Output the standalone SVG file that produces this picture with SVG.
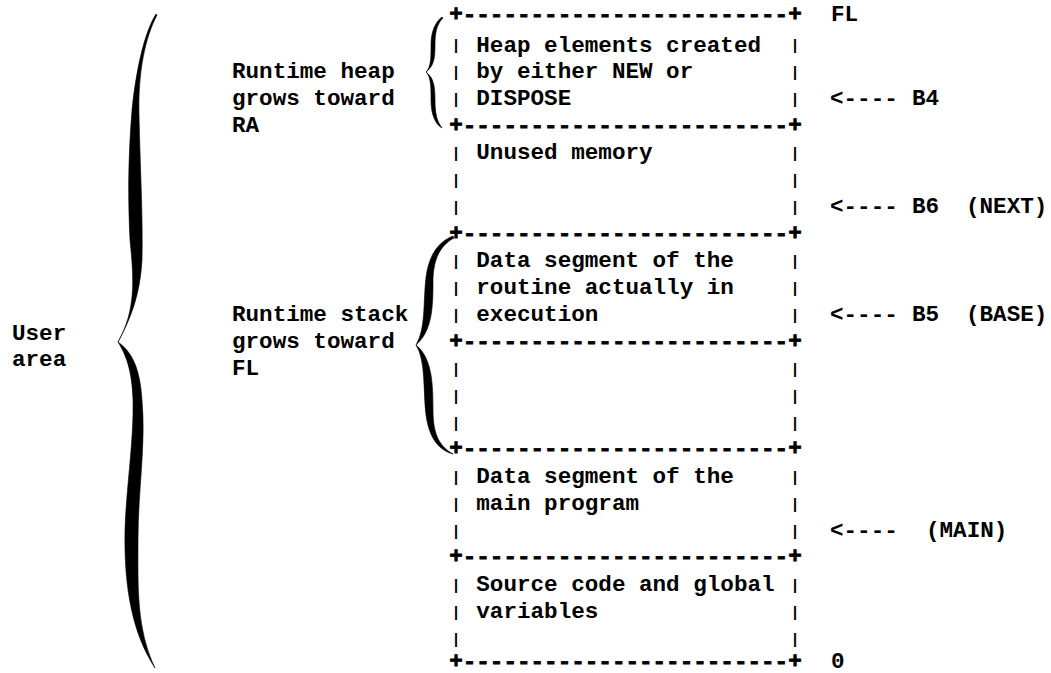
<svg xmlns="http://www.w3.org/2000/svg" width="1051" height="673" viewBox="0 0 1051 673">
<style>
text { font-family: "Liberation Mono", "DejaVu Sans Mono", monospace; font-weight: bold; fill: #000; font-size: 22.6px; }
.rule { stroke: #000; stroke-width: 0.8; }
.bar { font-size: 15px; text-anchor: middle; }
.brace { fill: #000; stroke: #000; stroke-width: 0.6; stroke-linejoin: round; }
</style>
<rect width="1051" height="673" fill="#fff"/>

<g id="region-heap">
<text class="rule" x="449.2" y="21">+------------------------+</text>
<text class="bar" x="456" y="50.4">|</text><text x="476.3" y="51.5">Heap elements created</text><text class="bar" x="795" y="50.4">|</text>
<text class="bar" x="456" y="77.3">|</text><text x="476.3" y="78.4">by either NEW or</text><text class="bar" x="795" y="77.3">|</text>
<text class="bar" x="456" y="104.3">|</text><text x="476.3" y="105.4">DISPOSE</text><text class="bar" x="795" y="104.3">|</text>
</g>

<g id="region-unused">
<text class="rule" x="449.2" y="131.8">+------------------------+</text>
<text class="bar" x="456" y="158.2">|</text><text x="476.3" y="159.3">Unused memory</text><text class="bar" x="795" y="158.2">|</text>
<text class="bar" x="456" y="185.2">|</text><text class="bar" x="795" y="185.2">|</text>
<text class="bar" x="456" y="212.1">|</text><text class="bar" x="795" y="212.1">|</text>
</g>

<g id="region-routine">
<text class="rule" x="449.2" y="239.7">+------------------------+</text>
<text class="bar" x="456" y="266">|</text><text x="476.3" y="267.1">Data segment of the</text><text class="bar" x="795" y="266">|</text>
<text class="bar" x="456" y="293">|</text><text x="476.3" y="294.1">routine actually in</text><text class="bar" x="795" y="293">|</text>
<text class="bar" x="456" y="320">|</text><text x="476.3" y="321.1">execution</text><text class="bar" x="795" y="320">|</text>
</g>

<g id="region-stack-rest">
<text class="rule" x="449.2" y="347.5">+------------------------+</text>
<text class="bar" x="456" y="373.9">|</text><text class="bar" x="795" y="373.9">|</text>
<text class="bar" x="456" y="400.8">|</text><text class="bar" x="795" y="400.8">|</text>
<text class="bar" x="456" y="427.8">|</text><text class="bar" x="795" y="427.8">|</text>
</g>

<g id="region-main">
<text class="rule" x="449.2" y="455.4">+------------------------+</text>
<text class="bar" x="456" y="481.7">|</text><text x="476.3" y="482.8">Data segment of the</text><text class="bar" x="795" y="481.7">|</text>
<text class="bar" x="456" y="508.7">|</text><text x="476.3" y="509.8">main program</text><text class="bar" x="795" y="508.7">|</text>
<text class="bar" x="456" y="535.6">|</text><text class="bar" x="795" y="535.6">|</text>
</g>

<g id="region-source">
<text class="rule" x="449.2" y="563.2">+------------------------+</text>
<text class="bar" x="456" y="589.6">|</text><text x="476.3" y="590.7">Source code and global</text><text class="bar" x="795" y="589.6">|</text>
<text class="bar" x="456" y="616.5">|</text><text x="476.3" y="617.6">variables</text><text class="bar" x="795" y="616.5">|</text>
<text class="bar" x="456" y="643.5">|</text><text class="bar" x="795" y="643.5">|</text>
<text class="rule" x="449.2" y="668">+------------------------+</text>
</g>

<g id="label-fl"><text x="831" y="21">FL</text></g>
<g id="label-zero"><text x="831" y="668">0</text></g>
<g id="label-b4"><text x="912" y="105.4">B4</text></g>
<g id="label-b6"><text x="912" y="213.2">B6<tspan x="966">(NEXT)</tspan></text></g>
<g id="label-b5"><text x="912" y="321.1">B5<tspan x="966">(BASE)</tspan></text></g>
<g id="label-main"><text x="926" y="536.7">(MAIN)</text></g>

<g id="label-heap">
<text x="232" y="78.4">Runtime heap</text>
<text x="232" y="105.4">grows toward</text>
<text x="232" y="132.3">RA</text>
</g>
<g id="label-stack">
<text x="232" y="321.1">Runtime stack</text>
<text x="232" y="348">grows toward</text>
<text x="232" y="375">FL</text>
</g>
<g id="label-user">
<text x="12" y="340">User</text>
<text x="12" y="366">area</text>
</g>

<g id="connectors">
<text x="830" y="105.4">&lt;----</text>
<text x="830" y="213.2">&lt;----</text>
<text x="830" y="321.1">&lt;----</text>
<text x="830" y="536.7">&lt;----</text>
<path class="brace" d="M156,14 C146,30 137,62 132,110 C128,160 128,200 130,240 C134,280 136,310 118,342 C131,318 140,295 142,260 C143,215 140,165 139,115 C138,72 145,38 157,15 Z"/>
<path class="brace" d="M118,342 C126,355 132,370 133,400 C134,440 126,490 125,530 C124,580 130,630 155,668 C136,628 138,585 138,540 C138,490 146,445 142,400 C140,368 132,352 118,342 Z"/>
<path class="brace" d="M442,17 C435,22 431,32 431,45 C431,58 431,67 426,72 C434,66 435,58 435,45 C435,32 437,24 443,18 Z"/>
<path class="brace" d="M426,72 C431,77 431,87 431,100 C431,114 435,124 442,128 C437,121 435,114 435,100 C435,87 434,78 426,72 Z"/>
<path class="brace" d="M453,236 C438,242 429,255 426,277 C423,303 426,328 416,345 C432,331 433,308 433,282 C433,258 441,245 454,238 Z"/>
<path class="brace" d="M416,345 C426,361 423,390 426,415 C429,437 438,450 453,454 C441,447 433,437 433,410 C433,383 432,358 416,345 Z"/>
</g>
</svg>
